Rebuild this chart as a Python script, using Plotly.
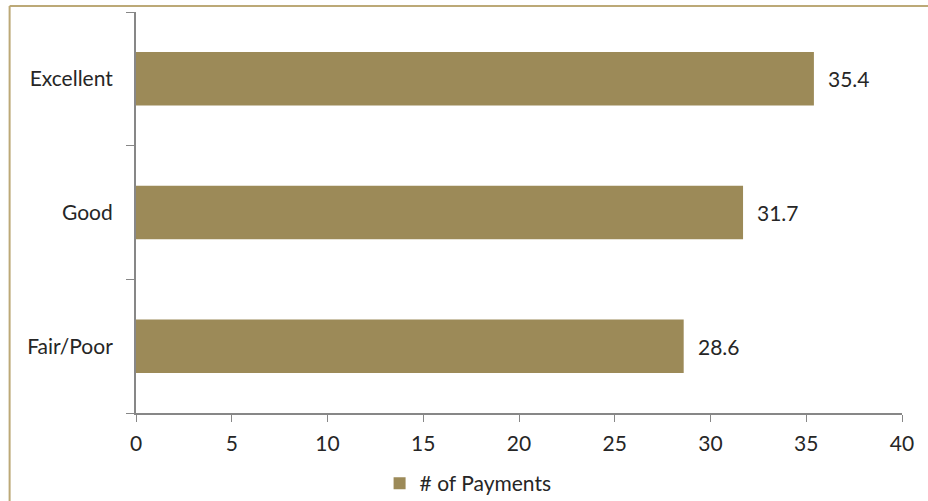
import plotly.graph_objects as go

# Average number of payments by rating category
categories = ["Fair/Poor", "Good", "Excellent"]
payments = [28.6, 31.7, 35.4]
x_ticks = [0, 5, 10, 15, 20, 25, 30, 35, 40]

BAR = "#9c8a58"
AXIS = "#878787"
TEXT = "#262626"
FRAME = "#bca977"
FONT = "Lato, Carlito, Calibri, 'Open Sans', sans-serif"
FS = 21

fig = go.Figure(
    go.Bar(
        x=payments,
        y=categories,
        orientation="h",
        name="# of Payments",
        marker=dict(color=BAR, line=dict(width=0)),
    )
)

# value labels just past the end of each bar
for cat, val in zip(categories, payments):
    fig.add_annotation(
        x=val, y=cat, xref="x", yref="y",
        text=f"{val:.1f}", showarrow=False,
        xanchor="left", xshift=12,
        font=dict(size=FS, color=TEXT, family=FONT),
    )

fig.update_layout(
    width=928,
    height=501,
    margin=dict(l=136, r=26, t=12, b=88, autoexpand=False),
    paper_bgcolor="white",
    plot_bgcolor="white",
    font=dict(family=FONT, size=FS, color=TEXT),
    bargap=0.6,
    showlegend=True,
    legend=dict(
        orientation="h",
        x=0.318,
        xanchor="left",
        y=-0.125,
        yanchor="top",
        font=dict(size=FS, color=TEXT),
        itemwidth=30,
        bgcolor="rgba(0,0,0,0)",
    ),
    xaxis=dict(
        range=[0, 40],
        tickvals=x_ticks,
        showgrid=False,
        zeroline=False,
        showline=True,
        linecolor=AXIS,
        linewidth=2,
        ticks="outside",
        ticklen=7,
        tickwidth=1,
        tickcolor=AXIS,
        tickfont=dict(size=FS, color=TEXT),
        ticklabelstandoff=4,
    ),
    yaxis=dict(
        categoryorder="array",
        categoryarray=categories,
        showgrid=False,
        zeroline=False,
        showline=True,
        linecolor=AXIS,
        linewidth=2,
        ticks="outside",
        tickson="boundaries",
        ticklen=8,
        tickwidth=1,
        tickcolor=AXIS,
        tickfont=dict(size=FS, color=TEXT),
        ticklabelstandoff=17,
    ),
    shapes=[
        # chart frame (top and left edges)
        dict(type="line", xref="paper", yref="paper",
             x0=-0.165, x1=1.05, y0=1.015, y1=1.015,
             line=dict(color=FRAME, width=2)),
        dict(type="line", xref="paper", yref="paper",
             x0=-0.165, x1=-0.165, y0=1.015, y1=-0.3,
             line=dict(color=FRAME, width=2)),
    ],
)

fig.write_html("out.html")
